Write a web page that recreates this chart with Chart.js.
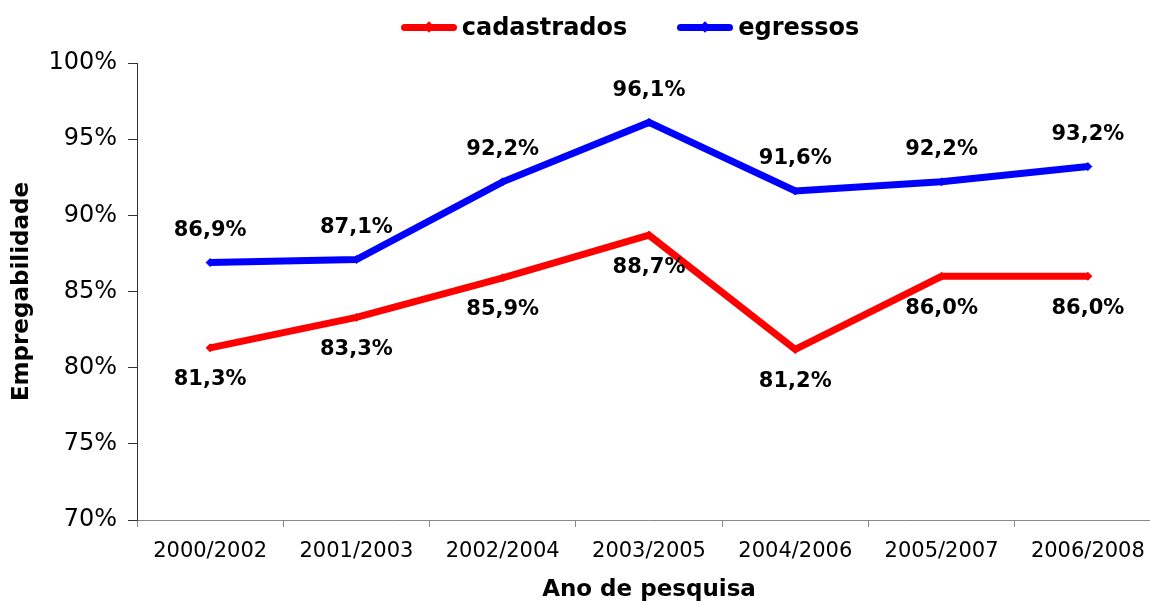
<!DOCTYPE html>
<html>
<head>
<meta charset="utf-8">
<script src="https://cdn.jsdelivr.net/npm/chart.js@4.4.1/dist/chart.umd.min.js"></script>
<style>
  html, body { margin:0; padding:0; background:#fff; overflow:hidden; }
  #wrap { position:relative; width:1260px; height:606px; }
  #legend { position:absolute; top:13px; left:0; width:1260px; display:flex; justify-content:center; gap:50px;
            font:bold 24px "DejaVu Sans", sans-serif; color:#000; line-height:28px; }
  .item { display:flex; align-items:center; }
  .sw { position:relative; width:56px; height:7px; border-radius:4px; margin-right:5px; }
  .sw i { position:absolute; left:24px; top:-1px; width:8px; height:8px; transform:rotate(45deg); background:inherit; }
</style>
</head>
<body>
<div id="wrap">
  <div id="legend"></div>
  <canvas id="chart" width="1260" height="606"></canvas>
</div>
<script>
// dados
const categorias = ['2000/2002', '2001/2003', '2002/2004', '2003/2005', '2004/2006', '2005/2007', '2006/2008'];
const cadastrados = [81.3, 83.3, 85.9, 88.7, 81.2, 86.0, 86.0];
const egressos = [86.9, 87.1, 92.2, 96.1, 91.6, 92.2, 93.2];
const yTicks = [70, 75, 80, 85, 90, 95, 100];

const FONT = '"DejaVu Sans", Verdana, sans-serif';
const fmt = v => v.toFixed(1).replace('.', ',') + '%';

// rótulos de valor em cima/embaixo de cada ponto
const valueLabels = {
  id: 'valueLabels',
  afterDatasetsDraw(chart){
    const { ctx } = chart;
    ctx.save();
    ctx.font = `bold 21px ${FONT}`;
    ctx.fillStyle = '#000';
    ctx.textAlign = 'center';
    ctx.textBaseline = 'middle';
    chart.data.datasets.forEach((ds, i) => {
      chart.getDatasetMeta(i).data.forEach((pt, j) => {
        ctx.fillText(fmt(ds.data[j]), pt.x, pt.y + ds.labelOffset);
      });
    });
    ctx.restore();
  }
};

function line(label, data, color, labelOffset){
  return {
    label, data, labelOffset,
    borderColor: color, backgroundColor: color,
    borderWidth: 7, tension: 0,
    pointStyle: 'rectRot', pointRadius: 4, pointBorderWidth: 1,
    pointBackgroundColor: color, pointBorderColor: color
  };
}

const chart = new Chart(document.getElementById('chart'), {
  type: 'line',
  data: {
    labels: categorias,
    datasets: [
      line('cadastrados', cadastrados, '#ff0000', 32),
      line('egressos', egressos, '#0000ff', -32)
    ]
  },
  options: {
    responsive: false,
    animation: false,
    layout: { padding: { top: 63, right: 99, bottom: 0, left: 0 } },
    plugins: { legend: { display: false }, tooltip: { enabled: false } },
    scales: {
      x: {
        offset: true,
        grid: { offset: true, drawOnChartArea: false, tickLength: 7, color: '#888' },
        border: { color: '#888' },
        ticks: { color: '#000', font: { family: FONT, size: 21 }, padding: 12, maxRotation: 0 },
        title: { display: true, text: 'Ano de pesquisa', color: '#000',
                 font: { family: FONT, size: 23, weight: 'bold' }, padding: { top: 0, bottom: 2 } },
        afterFit(s){ s.height = 86; }
      },
      y: {
        min: yTicks[0], max: yTicks[yTicks.length - 1],
        grid: { drawOnChartArea: false, tickLength: 9, color: '#333' },
        border: { color: '#333' },
        ticks: { stepSize: yTicks[1] - yTicks[0], color: '#000', font: { family: FONT, size: 24 },
                 padding: 11, callback: v => v + '%' },
        title: { display: true, text: 'Empregabilidade', color: '#000',
                 font: { family: FONT, size: 23, weight: 'bold' }, padding: { top: 8, bottom: 0 } },
        afterFit(s){ s.width = 137; }
      }
    }
  },
  plugins: [valueLabels]
});

// legenda em HTML
const legendEl = document.getElementById('legend');
chart.data.datasets.forEach(ds => {
  const item = document.createElement('div'); item.className = 'item';
  const sw = document.createElement('span'); sw.className = 'sw'; sw.style.background = ds.borderColor;
  sw.appendChild(document.createElement('i'));
  const txt = document.createElement('span'); txt.textContent = ds.label;
  item.appendChild(sw); item.appendChild(txt);
  legendEl.appendChild(item);
});
</script>
</body>
</html>
